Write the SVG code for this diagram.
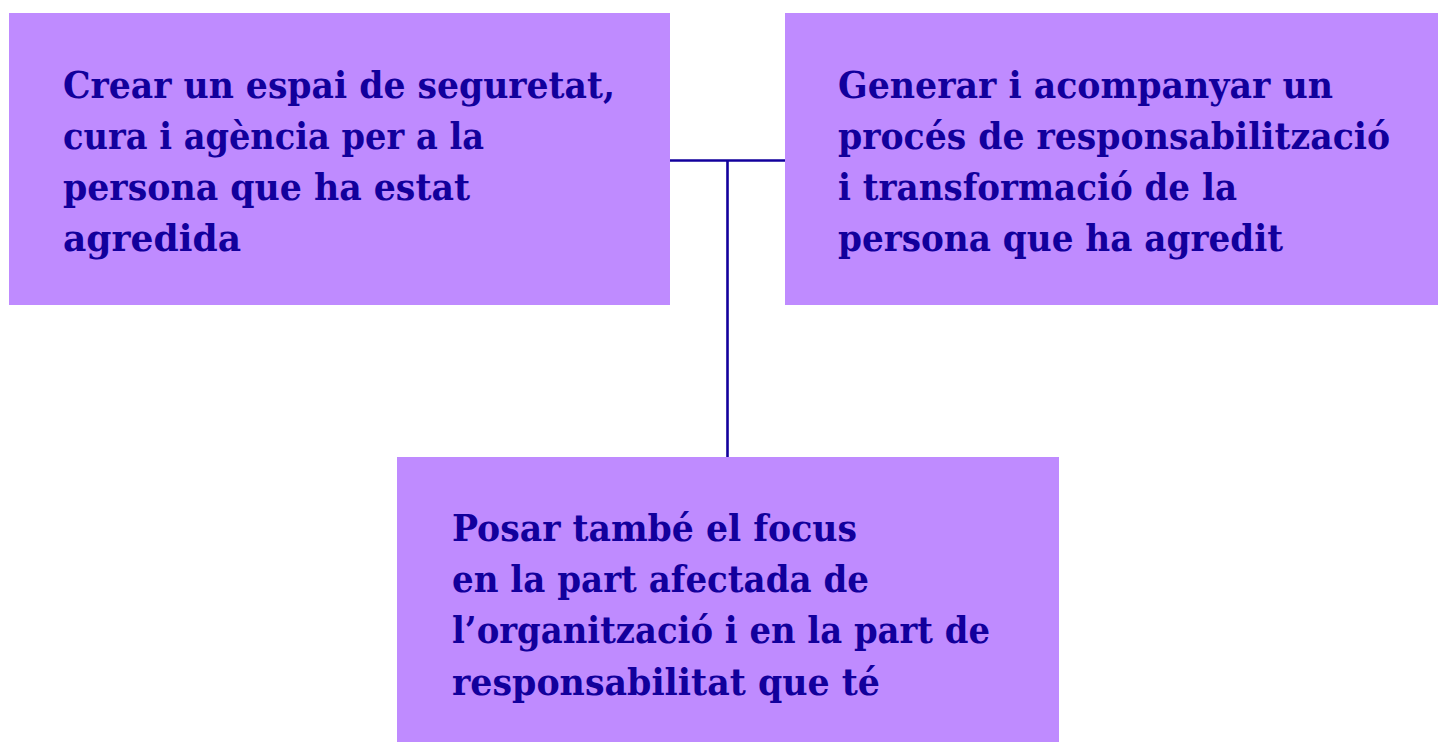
<svg xmlns="http://www.w3.org/2000/svg" width="1438" height="742" viewBox="0 0 1438 742">
<style>
.box{fill:#BF8BFF;}
.t{font-family:"DejaVu Serif","Liberation Serif",serif;font-weight:bold;font-size:37px;fill:#12009C;}
.c{stroke:#12009C;stroke-width:2.6;fill:none;}
</style>
<rect width="1438" height="742" fill="#FFFFFF"/>
<g id="connectors">
<line class="c" x1="670" y1="160.5" x2="785" y2="160.5"/>
<line class="c" x1="727.5" y1="160.5" x2="727.5" y2="457"/>
</g>
<g id="node-1">
<rect class="box" x="9" y="13" width="661" height="292"/>
<text class="t" x="63" y="98" textLength="552" lengthAdjust="spacingAndGlyphs">Crear un espai de seguretat,</text>
<text class="t" x="63" y="149" textLength="421" lengthAdjust="spacingAndGlyphs">cura i agència per a la</text>
<text class="t" x="63" y="200" textLength="407" lengthAdjust="spacingAndGlyphs">persona que ha estat</text>
<text class="t" x="63" y="251" textLength="178" lengthAdjust="spacingAndGlyphs">agredida</text>
</g>
<g id="node-2">
<rect class="box" x="785" y="13" width="653" height="292"/>
<text class="t" x="838" y="98" textLength="495" lengthAdjust="spacingAndGlyphs">Generar i acompanyar un</text>
<text class="t" x="838" y="149" textLength="552" lengthAdjust="spacingAndGlyphs">procés de responsabilització</text>
<text class="t" x="838" y="200" textLength="399" lengthAdjust="spacingAndGlyphs">i transformació de la</text>
<text class="t" x="838" y="251" textLength="445" lengthAdjust="spacingAndGlyphs">persona que ha agredit</text>
</g>
<g id="node-3">
<rect class="box" x="397" y="457" width="662" height="285"/>
<text class="t" x="452" y="541" textLength="405" lengthAdjust="spacingAndGlyphs">Posar també el focus</text>
<text class="t" x="452" y="592" textLength="417" lengthAdjust="spacingAndGlyphs">en la part afectada de</text>
<text class="t" x="452" y="643" textLength="538" lengthAdjust="spacingAndGlyphs">l’organització i en la part de</text>
<text class="t" x="452" y="695" textLength="428" lengthAdjust="spacingAndGlyphs">responsabilitat que té</text>
</g>
</svg>
